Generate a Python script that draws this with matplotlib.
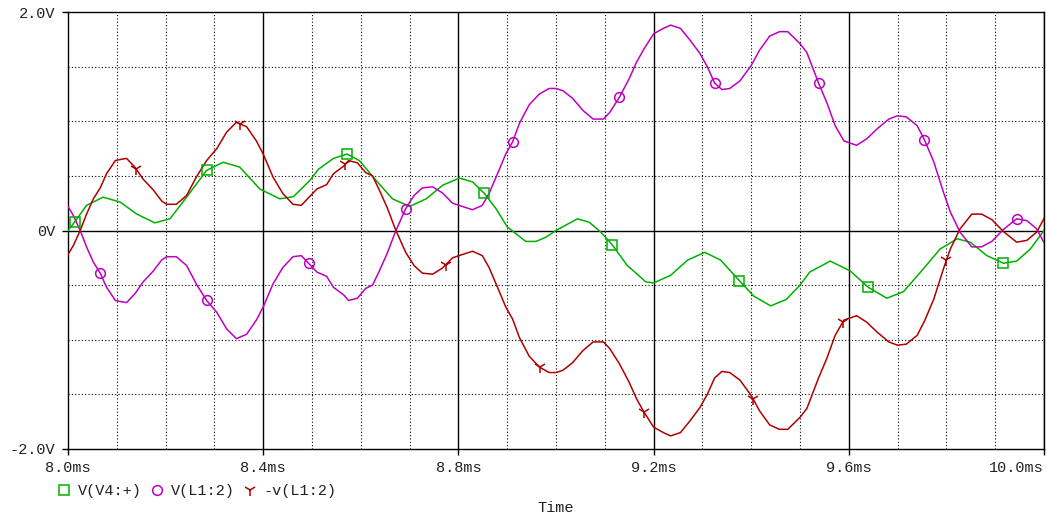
import numpy as np
import matplotlib
matplotlib.use("Agg")
import matplotlib.pyplot as plt
from matplotlib.lines import Line2D

plt.rcParams["font.family"] = ["Liberation Mono", "DejaVu Sans Mono"]
plt.rcParams["font.size"] = 11

# V(V4:+)  (time in ms, volts)
t_v4 = [8.000, 8.014, 8.038, 8.072, 8.107, 8.141, 8.178, 8.209, 8.243, 8.284,
        8.318, 8.352, 8.393, 8.434, 8.462, 8.496, 8.513, 8.544, 8.572, 8.597,
        8.631, 8.665, 8.700, 8.734, 8.768, 8.802, 8.829, 8.853, 8.877, 8.900,
        8.938, 8.959, 8.980, 9.000, 9.044, 9.068, 9.092, 9.115, 9.146, 9.184,
        9.200, 9.235, 9.270, 9.305, 9.337, 9.376, 9.405, 9.440, 9.472, 9.500,
        9.520, 9.562, 9.603, 9.640, 9.678, 9.712, 9.753, 9.787, 9.822, 9.849,
        9.883, 9.917, 9.944, 9.972, 10.000]
v_v4 = [0.00, 0.08, 0.23, 0.305, 0.26, 0.15, 0.07, 0.107, 0.305, 0.55,
        0.625, 0.58, 0.38, 0.29, 0.31, 0.46, 0.56, 0.66, 0.70, 0.64,
        0.46, 0.29, 0.22, 0.29, 0.415, 0.48, 0.445, 0.34, 0.20, 0.034,
        -0.10, -0.10, -0.06, 0.00, 0.107, 0.076, -0.015, -0.13, -0.32, -0.47,
        -0.48, -0.41, -0.27, -0.20, -0.27, -0.46, -0.60, -0.69, -0.63, -0.50,
        -0.38, -0.28, -0.37, -0.52, -0.62, -0.56, -0.35, -0.17, -0.076, -0.107,
        -0.23, -0.30, -0.28, -0.17, 0.00]

# V(L1:2)
t_l1 = [8.000, 8.011, 8.025, 8.038, 8.052, 8.066, 8.079, 8.097, 8.107, 8.120,
        8.137, 8.154, 8.175, 8.192, 8.202, 8.222, 8.243, 8.263, 8.284, 8.305,
        8.325, 8.345, 8.366, 8.386, 8.400, 8.420, 8.440, 8.461, 8.478, 8.493,
        8.510, 8.530, 8.544, 8.565, 8.575, 8.593, 8.610, 8.624, 8.637, 8.654,
        8.671, 8.692, 8.709, 8.726, 8.747, 8.767, 8.788, 8.808, 8.829, 8.849,
        8.863, 8.883, 8.897, 8.911, 8.925, 8.945, 8.966, 8.986, 9.000, 9.014,
        9.034, 9.055, 9.076, 9.097, 9.110, 9.130, 9.150, 9.165, 9.180, 9.200,
        9.220, 9.235, 9.255, 9.275, 9.295, 9.310, 9.325, 9.340, 9.356, 9.377,
        9.400, 9.417, 9.438, 9.458, 9.475, 9.500, 9.514, 9.538, 9.555, 9.572,
        9.590, 9.616, 9.637, 9.658, 9.682, 9.700, 9.718, 9.740, 9.755, 9.774,
        9.794, 9.808, 9.828, 9.852, 9.872, 9.893, 9.917, 9.944, 9.965, 9.985,
        10.000]
v_l1 = [0.22, 0.137, 0.00, -0.15, -0.29, -0.39, -0.52, -0.64, -0.65, -0.66,
        -0.58, -0.47, -0.37, -0.27, -0.24, -0.24, -0.32, -0.49, -0.64, -0.75,
        -0.90, -0.99, -0.95, -0.82, -0.70, -0.49, -0.34, -0.24, -0.23, -0.30,
        -0.38, -0.42, -0.52, -0.59, -0.64, -0.62, -0.53, -0.50, -0.38, -0.21,
        -0.01, 0.20, 0.32, 0.39, 0.40, 0.345, 0.25, 0.22, 0.19, 0.23,
        0.34, 0.55, 0.70, 0.81, 0.98, 1.15, 1.25, 1.30, 1.30, 1.28,
        1.21, 1.10, 1.02, 1.02, 1.08, 1.22, 1.39, 1.54, 1.66, 1.80,
        1.85, 1.88, 1.85, 1.74, 1.62, 1.50, 1.35, 1.29, 1.30, 1.37,
        1.51, 1.65, 1.78, 1.82, 1.82, 1.71, 1.63, 1.35, 1.17, 0.96,
        0.82, 0.78, 0.84, 0.93, 1.02, 1.05, 1.04, 0.96, 0.83, 0.63,
        0.35, 0.17, -0.015, -0.15, -0.15, -0.10, 0.01, 0.107, 0.09, 0.015,
        -0.11]

# where the probe markers sit (ms)
mk_v4 = [8.014, 8.284, 8.572, 8.853, 9.115, 9.376, 9.640, 9.917]
mk_l1 = [8.066, 8.284, 8.493, 8.692, 8.911, 9.130, 9.325, 9.538, 9.755, 9.944]
mk_neg = [8.139, 8.352, 8.568, 8.774, 8.967, 9.180, 9.404, 9.588, 9.800]

labels = ["V(V4:+)", "V(L1:2)", "-v(L1:2)"]
colors = ["#00B000", "#C000C0", "#B00000"]
xtick_labels = ["8.0ms", "8.4ms", "8.8ms", "9.2ms", "9.6ms", "10.0ms"]
ytick_labels = ["-2.0V", "0V", "2.0V"]

t_v4 = np.array(t_v4)
v_v4 = np.array(v_v4)
t_l1 = np.array(t_l1)
v_l1 = np.array(v_l1)
v_neg = -v_l1

fig = plt.figure(figsize=(10.47, 5.18), dpi=100)
ax = fig.add_axes([68/1047, 69/518, 976/1047, 437/518])

# grid, PSpice style
for xg in np.arange(8.1, 10.0, 0.1):
    if abs(round(xg / 0.4) * 0.4 - xg) < 1e-6:
        ax.axvline(xg, color="black", lw=1.0, zorder=1)
    else:
        ax.axvline(xg, color="black", lw=0.8, ls=(0, (1, 2)), zorder=1)
for yg in [-1.5, -1.0, -0.5, 0.5, 1.0, 1.5]:
    ax.axhline(yg, color="black", lw=0.8, ls=(0, (1, 2)), zorder=1)
ax.axhline(0, color="black", lw=1.0, zorder=1)

series = [(t_v4, v_v4, mk_v4, "s"), (t_l1, v_l1, mk_l1, "o"), (t_l1, v_neg, mk_neg, "1")]
for (tt, vv, mk, m), c in zip(series, colors):
    ax.plot(tt, vv, color=c, lw=1.1, zorder=3)
    ax.plot(mk, np.interp(mk, tt, vv), ls="none", marker=m, ms=7 if m != "1" else 9,
            mfc="none", mec=c, mew=1.1, zorder=4)

ax.set_xlim(8.0, 10.0)
ax.set_ylim(-2.0, 2.0)
ax.set_xticks([8.0, 8.4, 8.8, 9.2, 9.6, 10.0])
ax.set_xticklabels(xtick_labels)
ax.get_xticklabels()[-1].set_ha("right")
ax.set_yticks([-2.0, 0, 2.0])
ax.set_yticklabels(ytick_labels)
ax.tick_params(direction="out", length=4, width=1, color="black", labelcolor="#222222", pad=5)
for s in ax.spines.values():
    s.set_color("black")
    s.set_linewidth(1.0)
ax.set_xlabel("Time", labelpad=18, color="#222222")

handles = [Line2D([], [], ls="none", marker=m, ms=7 if m != "1" else 9, mfc="none", mec=c, mew=1.1)
           for m, c in zip(["s", "o", "1"], colors)]
fig.legend(handles, labels, loc="center left", bbox_to_anchor=(58/1047, 1 - 491/518),
           ncol=3, frameon=False, handlelength=0.8, handletextpad=0.5, columnspacing=0.6,
           borderpad=0, borderaxespad=0, labelcolor="#222222")

fig.savefig("out.png", dpi=100)
